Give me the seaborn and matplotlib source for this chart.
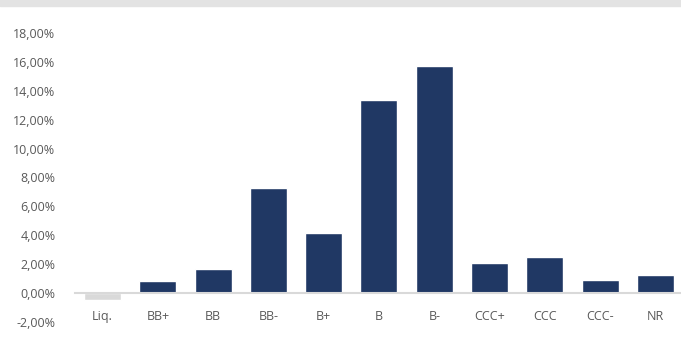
import matplotlib
matplotlib.use("Agg")
import matplotlib.pyplot as plt
import seaborn as sns
import pandas as pd
from matplotlib.ticker import FuncFormatter, MultipleLocator
from matplotlib.patches import Rectangle

ratings = ["Liq.", "BB+", "BB", "BB-", "B+", "B", "B-", "CCC+", "CCC", "CCC-", "NR"]
weights = [-0.45, 0.85, 1.68, 7.27, 4.15, 13.36, 15.72, 2.08, 2.52, 0.9, 1.25]
colors = ["#d9d9d9"] + ["#203864"] * 10

df = pd.DataFrame({"rating": ratings, "weight": weights})

sns.set_style("white")
plt.rcParams["font.family"] = ["Open Sans", "DejaVu Sans"]

fig = plt.figure(figsize=(6.81, 3.42), dpi=100)
ax = fig.add_axes([0.110, 0.0585, 0.893, 0.845])

sns.barplot(data=df, x="rating", y="weight", hue="rating", palette=colors,
            legend=False, width=0.67, saturation=1, ax=ax)

ax.set_ylim(-2, 18)
ax.set_xlim(-0.5, 10.5)
ax.yaxis.set_major_locator(MultipleLocator(2))
ax.yaxis.set_major_formatter(FuncFormatter(lambda v, p: f"{v:.2f}%".replace(".", ",")))
ax.set_xlabel("")
ax.set_ylabel("")

for s in ["top", "right", "left"]:
    ax.spines[s].set_visible(False)
ax.spines["bottom"].set_position(("data", 0))
ax.spines["bottom"].set_color("#d9d9d9")
ax.spines["bottom"].set_linewidth(1.5)
ax.tick_params(axis="both", length=0, labelsize=9, labelcolor="#595959")
ax.tick_params(axis="x", pad=12)
ax.tick_params(axis="y", pad=14)

# grey band at the top of the picture
fig.patches.append(Rectangle((0, 0.983), 1, 0.017, transform=fig.transFigure,
                             color="#e3e3e3", zorder=0))

fig.savefig("out.png", dpi=100)
